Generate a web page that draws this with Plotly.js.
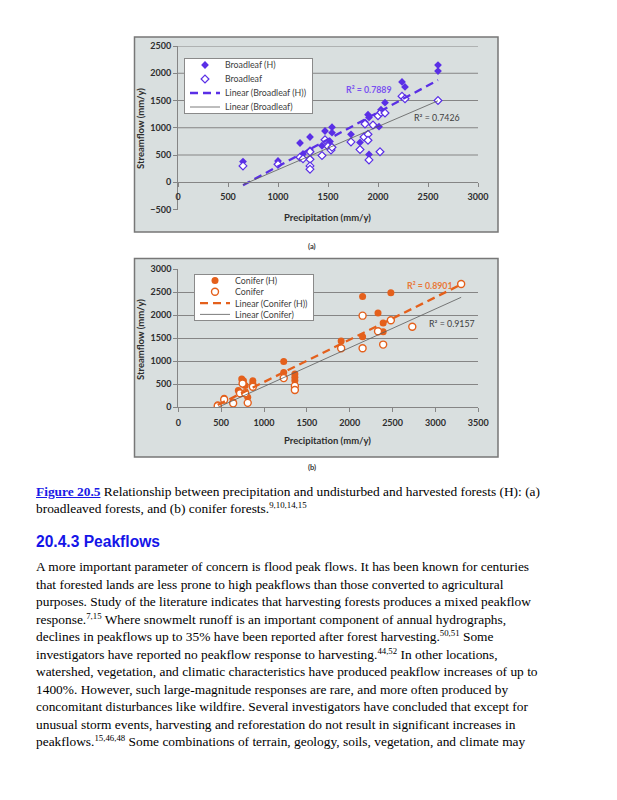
<!DOCTYPE html>
<html><head><meta charset="utf-8">
<script src="https://cdn.plot.ly/plotly-3.0.1.min.js"></script>
<style>
html,body{margin:0;padding:0;background:#fff;width:617px;height:800px;overflow:hidden}
#chart{position:absolute;left:0;top:0;width:617px;height:480px}
.serif{position:absolute;left:36px;font-family:"Liberation Serif","Times New Roman",serif;font-size:13.4px;color:#000;white-space:nowrap}
.serif sup{font-size:8.8px;line-height:0;vertical-align:5px}
#caption{top:484px;line-height:16.5px}
#caption a{color:#1a1ae6;font-weight:bold;text-decoration:underline}
#heading{position:absolute;left:36px;top:532px;font-family:"Liberation Sans",Arial,sans-serif;font-weight:bold;font-size:15.6px;color:#1515e8;white-space:nowrap;line-height:20px}
#para{top:558px;line-height:17.5px}
</style></head><body>
<div id="chart"></div>
<div id="caption" class="serif"><a>Figure 20.5</a> Relationship between precipitation and undisturbed and harvested forests (H): (a)<br>broadleaved forests, and (b) conifer forests.<sup>9,10,14,15</sup></div>
<div id="heading">20.4.3 Peakflows</div>
<div id="para" class="serif">A more important parameter of concern is flood peak flows. It has been known for centuries<br>that forested lands are less prone to high peakflows than those converted to agricultural<br>purposes. Study of the literature indicates that harvesting forests produces a mixed peakflow<br>response.<sup>7,15</sup> Where snowmelt runoff is an important component of annual hydrographs,<br>declines in peakflows up to 35% have been reported after forest harvesting.<sup>50,51</sup> Some<br>investigators have reported no peakflow response to harvesting.<sup>44,52</sup> In other locations,<br>watershed, vegetation, and climatic characteristics have produced peakflow increases of up to<br>1400%. However, such large-magnitude responses are rare, and more often produced by<br>concomitant disturbances like wildfire. Several investigators have concluded that except for<br>unusual storm events, harvesting and reforestation do not result in significant increases in<br>peakflows.<sup>15,46,48</sup> Some combinations of terrain, geology, soils, vegetation, and climate may</div>
<script>
// ---------- Data: panel (a) broadleaf ----------
const broadHX = [650, 1000, 1220, 1250, 1320, 1320, 1440, 1470, 1520, 1540, 1540, 1730, 1820, 1870, 1900, 1910, 1910, 2010, 2030, 2070, 2240, 2270, 2600, 2600];
const broadHY = [380, 390, 720, 520, 830, 590, 670, 940, 750, 1010, 910, 880, 730, 1100, 1240, 1190, 510, 1020, 1330, 1460, 1840, 1750, 2150, 2040];
const broadX  = [650, 1000, 1220, 1250, 1320, 1320, 1320, 1320, 1440, 1470, 1500, 1530, 1540, 1730, 1820, 1860, 1870, 1900, 1900, 1910, 1950, 2000, 2020, 2030, 2070, 2240, 2270, 2600];
const broadY  = [300, 330, 460, 430, 560, 420, 300, 240, 490, 780, 660, 590, 640, 740, 600, 830, 1070, 880, 770, 410, 1050, 1220, 560, 1280, 1270, 1580, 1530, 1500];
const trendBroadHX = [650, 2600];
const trendBroadHY = [-55, 1875];
const trendBroadX  = [650, 2600];
const trendBroadY  = [-45, 1495];
// ---------- Data: panel (b) conifer ----------
const conHX = [460, 535, 640, 700, 740, 760, 780, 810, 870, 870, 1230, 1230, 1360, 1360, 1360, 1900, 2150, 2150, 2330, 2390, 2390, 2480];
const conHY = [50, 190, 110, 360, 610, 570, 470, 210, 570, 520, 990, 750, 720, 650, 580, 1440, 2410, 1530, 2050, 1830, 1640, 2490];
const conX  = [460, 535, 640, 720, 750, 780, 810, 870, 1230, 1360, 1360, 1900, 2150, 2150, 2330, 2390, 2480, 2730, 3300];
const conY  = [20, 160, 80, 300, 510, 300, 90, 440, 630, 460, 370, 1280, 1990, 1280, 1650, 1360, 1890, 1750, 2680];
const trendConHX = [460, 3290];
const trendConHY = [45, 2660];
const trendConX  = [460, 3300];
const trendConY  = [-10, 2390];
// ---------- Labels ----------
const namesA = ["Broadleaf (H)", "Broadleaf", "Linear (Broadleaf (H))", "Linear (Broadleaf)"];
const namesB = ["Conifer (H)", "Conifer", "Linear (Conifer (H))", "Linear (Conifer)"];
const r2A = ["R² = 0.7889", "R² = 0.7426"];
const r2B = ["R² = 0.8901", "R² = 0.9157"];
const gridA = [500, 1000, 1500, 2000, 2500];
const xTitle = "Precipitation (mm/y)";
const yTitle = "Streamflow (mm/y)";

const BL = "#5a2fe6", OR = "#e4601c", GR = "#5a5a5a", GRID = "#858585", FRAME = "#d9dfdf";
const FONT = "Lato, 'Open Sans', sans-serif";

const traces = [
  {x: broadHX, y: broadHY, name: namesA[0], type: "scatter", mode: "markers", xaxis: "x", yaxis: "y", legend: "legend",
   marker: {symbol: "diamond", size: 6, color: BL, line: {width: 0}}},
  {x: broadX, y: broadY, name: namesA[1], type: "scatter", mode: "markers", xaxis: "x", yaxis: "y", legend: "legend",
   marker: {symbol: "diamond", size: 6, color: "#ffffff", line: {width: 1.2, color: BL}}},
  {x: trendBroadHX, y: trendBroadHY, name: namesA[2], type: "scatter", mode: "lines", xaxis: "x", yaxis: "y", legend: "legend",
   line: {color: BL, width: 2.3, dash: "8px,5px"}},
  {x: trendBroadX, y: trendBroadY, name: namesA[3], type: "scatter", mode: "lines", xaxis: "x", yaxis: "y", legend: "legend",
   line: {color: GR, width: 0.8}},
  {x: conHX, y: conHY, name: namesB[0], type: "scatter", mode: "markers", xaxis: "x2", yaxis: "y2", legend: "legend2",
   marker: {symbol: "circle", size: 7, color: OR, line: {width: 0}}},
  {x: conX, y: conY, name: namesB[1], type: "scatter", mode: "markers", xaxis: "x2", yaxis: "y2", legend: "legend2",
   marker: {symbol: "circle", size: 7, color: "#ffffff", line: {width: 1.4, color: OR}}},
  {x: trendConHX, y: trendConHY, name: namesB[2], type: "scatter", mode: "lines", xaxis: "x2", yaxis: "y2", legend: "legend2",
   line: {color: OR, width: 2.3, dash: "8px,5px"}},
  {x: trendConX, y: trendConY, name: namesB[3], type: "scatter", mode: "lines", xaxis: "x2", yaxis: "y2", legend: "legend2",
   line: {color: GR, width: 0.8}}
];

const W = 617, H = 480;
const px = v => v / W, py = v => 1 - v / H;
const tickFont = {family: FONT, size: 9, color: "#2e2e2e", weight: 700};
const axisCommon = {ticks: "outside", ticklen: 4, tickcolor: GRID, showline: true, linecolor: GRID, linewidth: 1,
  tickfont: tickFont, zeroline: false, fixedrange: true};

const shapes = [
  {type: "rect", xref: "paper", yref: "paper", x0: px(134.5), x1: px(498), y0: py(232), y1: py(37), layer: "below",
   fillcolor: FRAME, line: {color: "#777777", width: 1.5}},
  {type: "rect", xref: "paper", yref: "paper", x0: px(134.5), x1: px(498), y0: py(457), y1: py(258.5), layer: "below",
   fillcolor: FRAME, line: {color: "#777777", width: 1.5}}
];
gridA.forEach(v => shapes.push({type: "line", xref: "x domain", yref: "y", x0: 0, x1: 1, y0: v, y1: v, layer: "below",
  line: {color: GRID, width: 1}}));

const annFont = {family: FONT, size: 9.5, color: "#2e2e2e", weight: 700};
const C = {xanchor: "center", yanchor: "middle", showarrow: false};
const annotations = [
  Object.assign({text: r2A[0], xref: "x", yref: "y", x: 1910, y: 1710, font: {family: FONT, size: 8.8, color: "#7a52f0", weight: 700}}, C),
  Object.assign({text: r2A[1], xref: "x", yref: "y", x: 2590, y: 1195, font: {family: FONT, size: 8.8, color: "#404040"}}, C),
  Object.assign({text: r2B[0], xref: "x2", yref: "y2", x: 2940, y: 2655, font: {family: FONT, size: 8.8, color: "#e8793a", weight: 700}}, C),
  Object.assign({text: r2B[1], xref: "x2", yref: "y2", x: 3195, y: 1830, font: {family: FONT, size: 8.8, color: "#404040"}}, C),
  Object.assign({text: xTitle, xref: "paper", yref: "paper", x: px(327), y: py(218), font: annFont}, C),
  Object.assign({text: yTitle, xref: "paper", yref: "paper", x: px(140), y: py(129), textangle: -90, font: annFont}, C),
  Object.assign({text: xTitle, xref: "paper", yref: "paper", x: px(327), y: py(440), font: annFont}, C),
  Object.assign({text: yTitle, xref: "paper", yref: "paper", x: px(140), y: py(340), textangle: -90, font: annFont}, C),
  Object.assign({text: "(a)", xref: "paper", yref: "paper", x: px(312), y: py(247), font: {family: FONT, size: 7.5, color: "#333", weight: 700}}, C),
  Object.assign({text: "(b)", xref: "paper", yref: "paper", x: px(312), y: py(467), font: {family: FONT, size: 7.5, color: "#333", weight: 700}}, C)
];

const legendCommon = {xanchor: "left", yanchor: "top", bgcolor: "#ffffff", bordercolor: "#8a8a8a", borderwidth: 1,
  font: {family: FONT, size: 8.8, color: "#404040"}, tracegroupgap: 0, itemclick: false, itemdoubleclick: false};

const layout = {
  width: W, height: H, margin: {l: 0, r: 0, t: 0, b: 0},
  paper_bgcolor: "#ffffff", plot_bgcolor: "rgba(0,0,0,0)",
  font: {family: FONT, size: 8.5, color: "#333"},
  showlegend: true,
  xaxis: Object.assign({}, axisCommon, {domain: [px(178), px(478)], range: [0, 3000], dtick: 500, tick0: 0,
    anchor: "free", position: py(182.25), showgrid: false, ticklabelstandoff: 2}),
  yaxis: Object.assign({}, axisCommon, {domain: [py(209.5), py(46)], range: [-500, 2500], dtick: 500, tick0: 0,
    anchor: "x", showgrid: false}),
  xaxis2: Object.assign({}, axisCommon, {domain: [px(178.3), px(478.3)], range: [0, 3500], dtick: 500, tick0: 0,
    anchor: "y2", showgrid: false, ticklabelstandoff: 3}),
  yaxis2: Object.assign({}, axisCommon, {domain: [py(407), py(269.3)], range: [0, 3000], dtick: 500, tick0: 0,
    anchor: "x2", showgrid: true, gridcolor: GRID, gridwidth: 1}),
  legend: Object.assign({}, legendCommon, {x: px(184), y: py(58)}),
  legend2: Object.assign({}, legendCommon, {x: px(194), y: py(274)}),
  shapes: shapes,
  annotations: annotations
};

// compact legend rows (Excel-style spacing): box height, first-row offset, row step
const legendRows = {legend: {h: 55, first: 7, step: 14}, legend2: {h: 46, first: 6.5, step: 11.3}};

Plotly.newPlot("chart", traces, layout, {displayModeBar: false, staticPlot: true}).then(gd => {
  Object.keys(legendRows).forEach(id => {
    const spec = legendRows[id];
    const g = gd.querySelector("g." + id);
    if (!g) return;
    const top = g.getCTM().f;
    const items = Array.from(g.querySelectorAll("g.traces"));
    items.sort((a, b) => a.getCTM().f - b.getCTM().f);
    items.forEach((el, i) => {
      const oldAbs = el.getCTM().f;
      const target = top + spec.first + i * spec.step;
      const m = /translate\(\s*([-\d.e]+)[ ,]+([-\d.e]+)\s*\)/.exec(el.getAttribute("transform") || "");
      const tx = m ? +m[1] : 0, ty = m ? +m[2] : 0;
      el.setAttribute("transform", "translate(" + tx + "," + (ty + target - oldAbs) + ")");
    });
    const bg = g.querySelector("rect.bg");
    if (bg) bg.setAttribute("height", spec.h);
  });
});
</script>
</body></html>
